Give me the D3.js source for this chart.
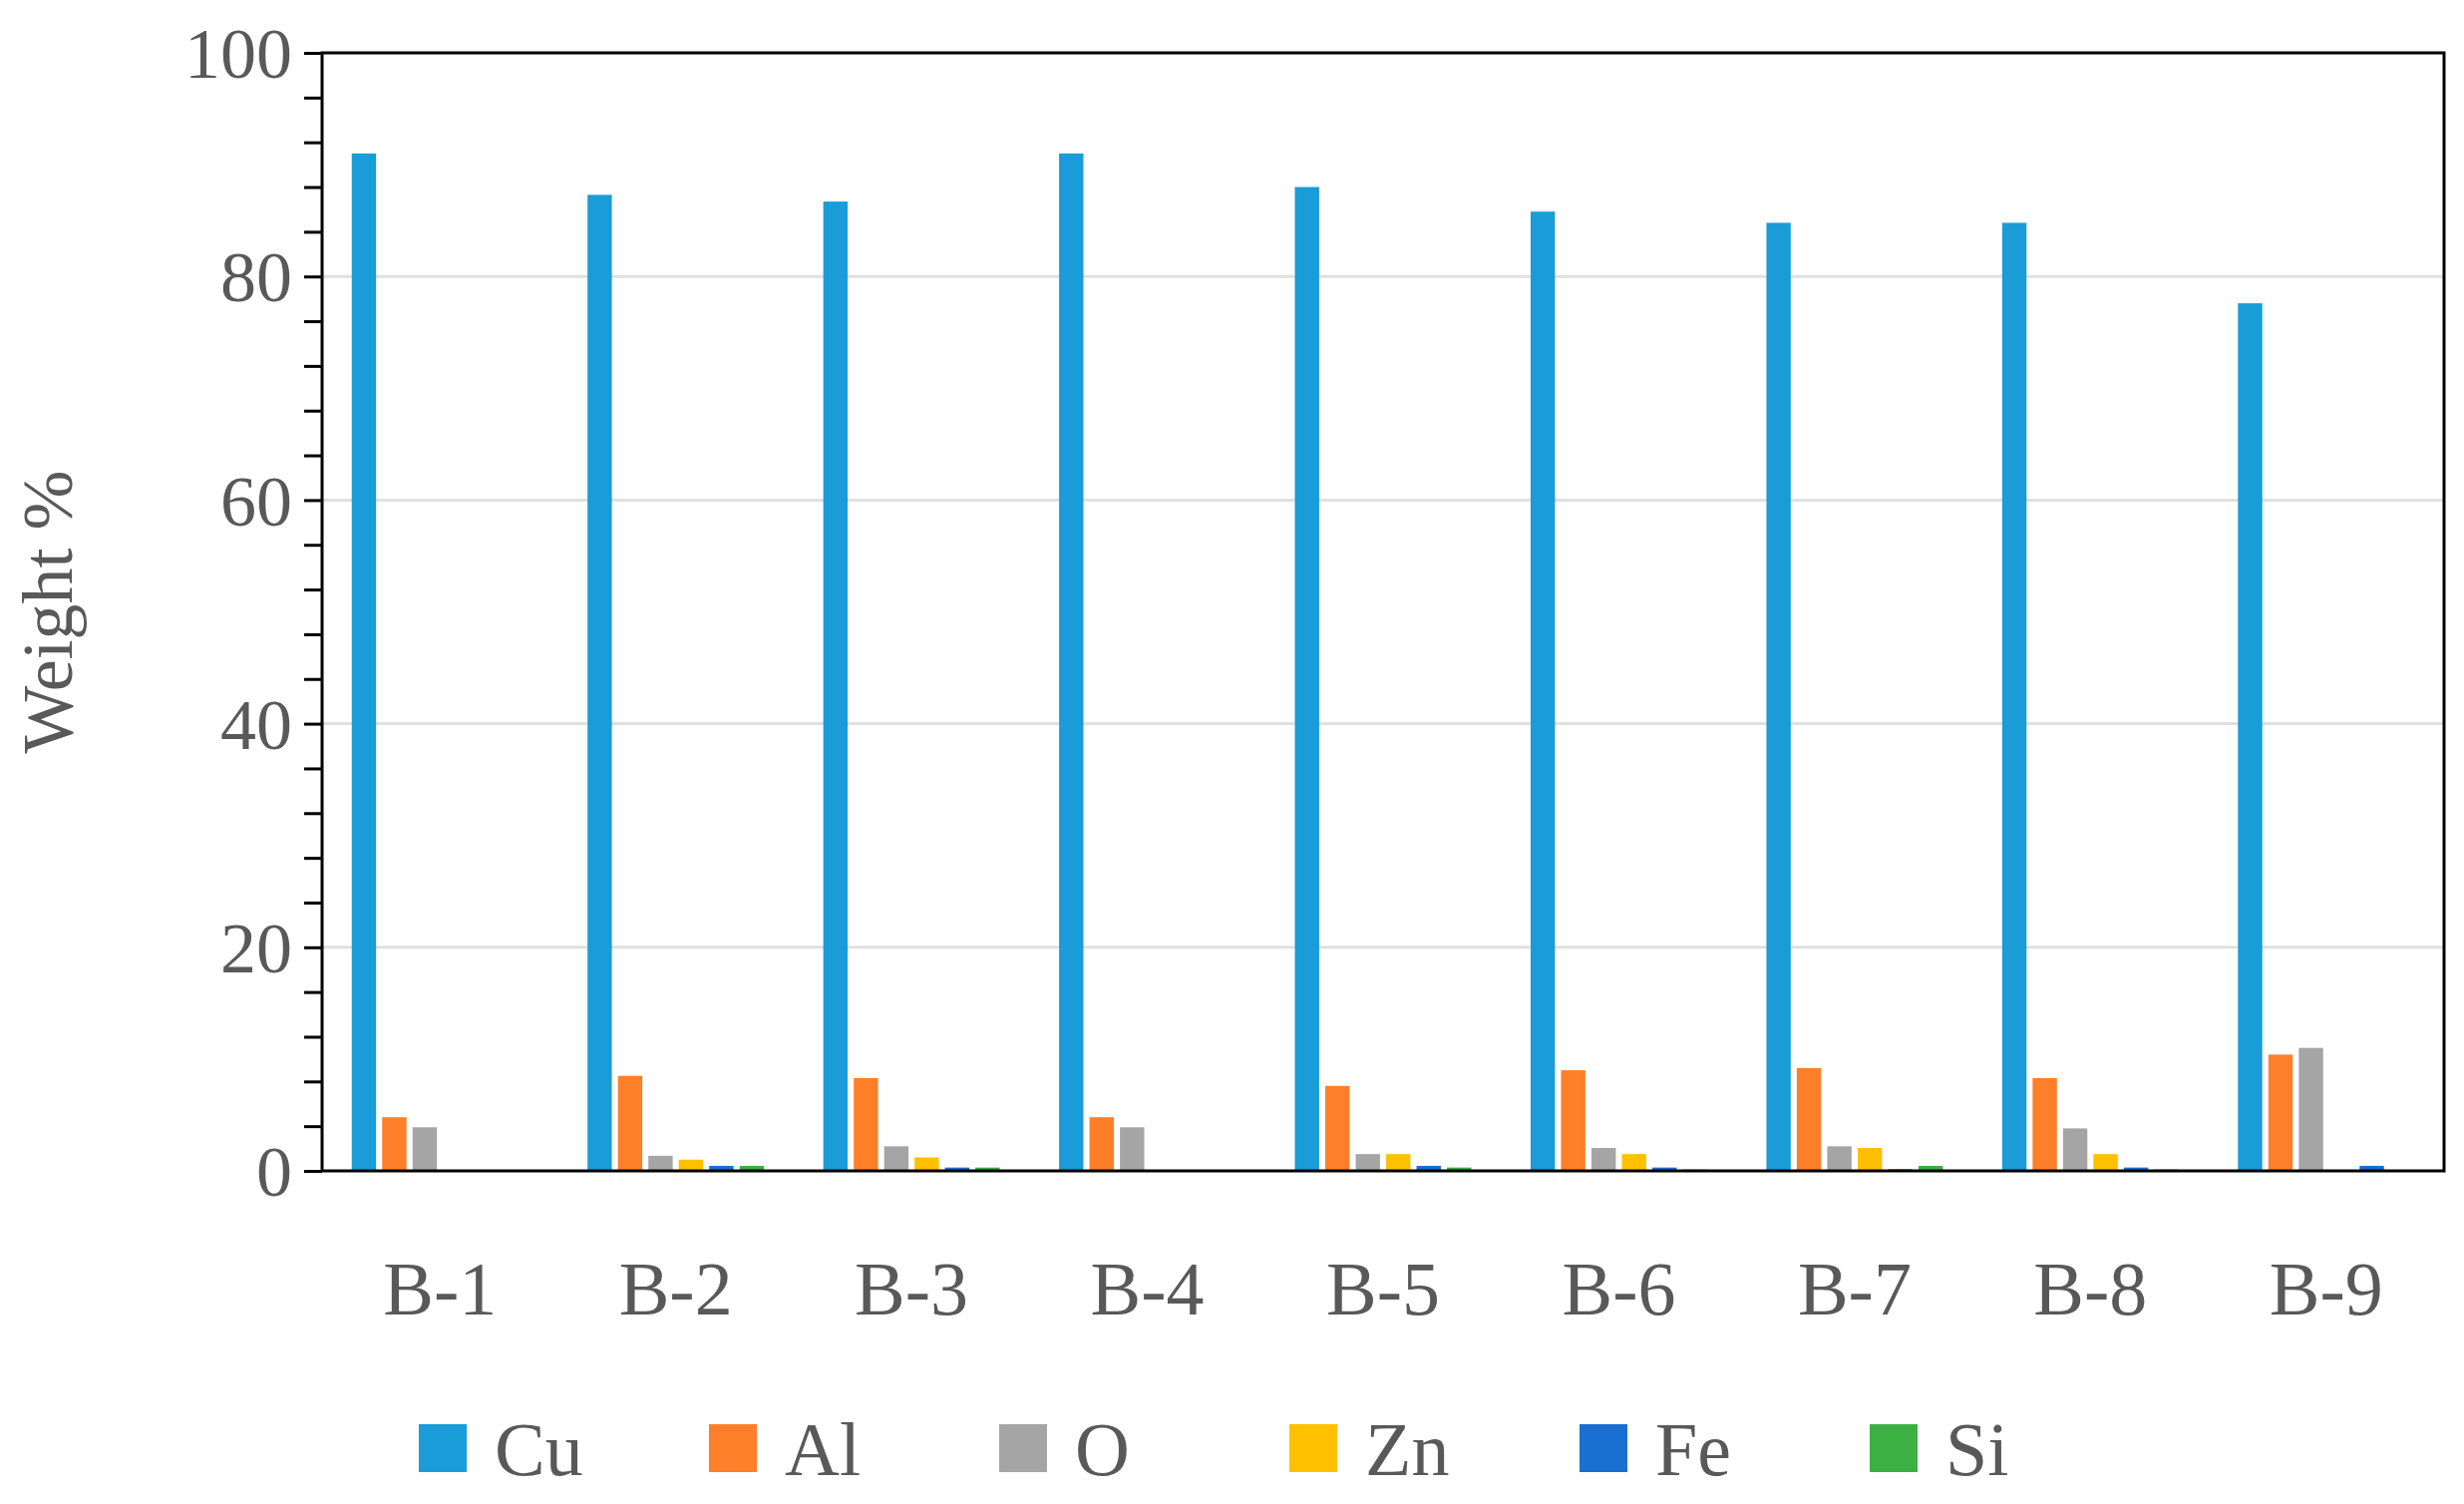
<!DOCTYPE html>
<html><head><meta charset="utf-8">
<script src="https://cdn.jsdelivr.net/npm/d3@7"></script>
<style>body{margin:0;background:#fff}text{font-family:"Liberation Serif","DejaVu Serif",serif;fill:#595959}</style>
</head><body>
<svg id="chart" width="2471" height="1508"></svg>
<script>
const samples = ['B-1','B-2','B-3','B-4','B-5','B-6','B-7','B-8','B-9'];
const elements = ['Cu','Al','O','Zn','Fe','Si'];
const Cu = [91, 87.3, 86.7, 91, 88, 85.8, 84.8, 84.8, 77.6];
const Al = [4.8, 8.5, 8.3, 4.8, 7.6, 9.0, 9.2, 8.3, 10.4];
const O  = [3.9, 1.35, 2.2, 3.9, 1.5, 2.05, 2.2, 3.8, 11.0];
const Zn = [0, 1.0, 1.2, 0, 1.5, 1.5, 2.05, 1.5, 0];
const Fe = [0, 0.45, 0.3, 0, 0.45, 0.3, 0.15, 0.3, 0.45];
const Si = [0, 0.45, 0.3, 0, 0.3, 0.12, 0.45, 0.12, 0];
const yTicks = [0, 20, 40, 60, 80, 100];
const colors = ['#1a9cd8','#fe7f2a','#a5a5a5','#ffc000','#1a6fd0','#3cb043'];

const series = [Cu, Al, O, Zn, Fe, Si];
const m = {left: 323, right: 2451, top: 53, bottom: 1174};
const svg = d3.select('#chart');

const x = d3.scaleBand().domain(samples).range([m.left, m.right]).paddingInner(0.2).paddingOuter(0.1);
const xi = d3.scaleBand().domain(elements).range([0, x.bandwidth()]).padding(0.2);
const y = d3.scaleLinear().domain([0, 100]).range([m.bottom, m.top]);

// gridlines
svg.append('g').selectAll('line').data(yTicks.slice(1, -1)).enter().append('line')
	.attr('x1', m.left).attr('x2', m.right)
	.attr('y1', d => y(d)).attr('y2', d => y(d))
	.attr('stroke', '#e0e0e0').attr('stroke-width', 3);

// bars
samples.forEach((s, i) => {
	svg.append('g').selectAll('rect').data(elements).enter().append('rect')
		.attr('x', e => x(s) + xi(e))
		.attr('width', xi.bandwidth())
		.attr('y', (e, j) => y(series[j][i]))
		.attr('height', (e, j) => y(0) - y(series[j][i]))
		.attr('fill', (e, j) => colors[j]);
});

// frame
svg.append('rect').attr('x', m.left).attr('y', m.top)
	.attr('width', m.right - m.left).attr('height', m.bottom - m.top)
	.attr('fill', 'none').attr('stroke', '#000').attr('stroke-width', 3);

// y axis
const yAxis = svg.append('g').attr('transform', `translate(${m.left},0)`)
	.call(d3.axisLeft(y).tickValues(d3.range(0, 101, 4)).tickSize(18).tickFormat(''));
yAxis.selectAll('line').attr('stroke', '#000').attr('stroke-width', 3);
yAxis.select('.domain').remove();
svg.append('g').selectAll('text').data(yTicks).enter().append('text')
	.attr('x', m.left - 30).attr('y', d => y(d)).attr('dy', '0.35em')
	.attr('text-anchor', 'end').attr('font-size', 72).text(d => d);

// x labels
svg.append('g').selectAll('text').data(samples).enter().append('text')
	.attr('x', d => x(d) + x.bandwidth() / 2).attr('y', 1318)
	.attr('text-anchor', 'middle').attr('font-size', 76).text(d => d);

svg.append('text').attr('transform', `translate(72,${(m.top + m.bottom) / 2}) rotate(-90)`)
	.attr('text-anchor', 'middle').attr('font-size', 72).text('Weight %');

// legend
const lx = d3.scaleLinear().domain([0, 5]).range([420, 1875]);
const lg = svg.append('g').selectAll('g').data(elements).enter().append('g')
	.attr('transform', (d, i) => `translate(${lx(i)},1428)`);
lg.append('rect').attr('width', 48).attr('height', 48).attr('fill', (d, i) => colors[i]);
lg.append('text').attr('x', 76).attr('y', 24).attr('dy', '0.35em').attr('font-size', 76).text(d => d);
</script>
</body></html>
